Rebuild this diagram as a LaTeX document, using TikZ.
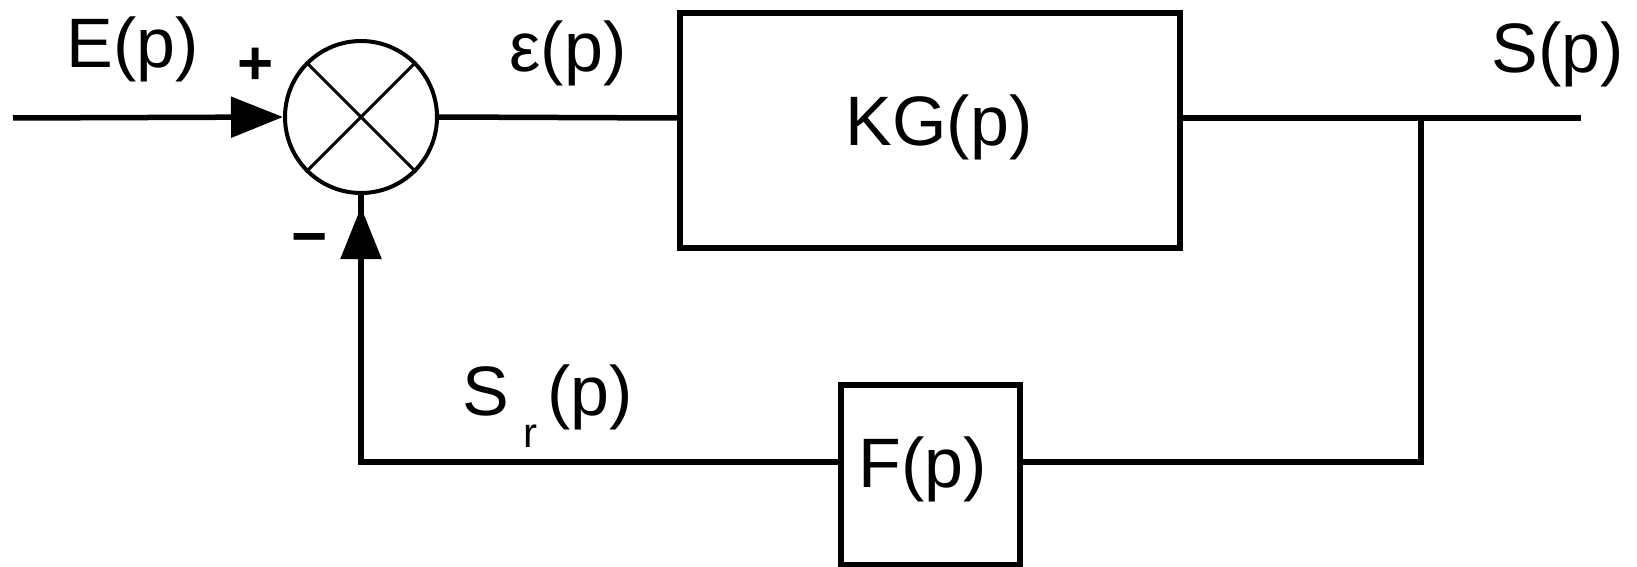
\documentclass[tikz,border=0pt]{standalone}
\usepackage{fontspec}
\setmainfont{Liberation Sans}
\usetikzlibrary{arrows.meta,calc}
\begin{document}
\begin{tikzpicture}[x=1pt,y=-1pt,
  wire/.style={line width=5.5pt},
  arr/.style={line width=5.5pt,-{Triangle[length=52pt,width=40pt]}},
  blk/.style={draw,line width=5.5pt,inner sep=0pt},
  lbl/.style={font=\fontsize{70}{70}\selectfont,inner sep=0pt,anchor=base},
  sgn/.style={font=\bfseries\fontsize{62}{62}\selectfont,inner sep=0pt},
  sumstyle/.style={draw,circle,line width=4pt,minimum size=152pt,inner sep=0pt}]
\useasboundingbox (0,0) rectangle (1637,567);
% blocks
\node[sumstyle] (sum) at (361,117) {};
\draw[line width=3pt] (sum.north west) -- (sum.south east);
\draw[line width=3pt] (sum.north east) -- (sum.south west);
\node[blk,minimum width=500pt,minimum height=235pt] (KG) at (930,130.5) {};
\node[blk,minimum width=179pt,minimum height=180pt] (F) at (930.5,475) {};
% coordinates
\coordinate (in) at (13,118);
\coordinate (out) at (1581,118);
\coordinate (br) at (1421,118);
\coordinate (fbr) at (1421,462);
\coordinate (fbl) at (361,462);
% connectors
\draw[arr] (in) -- (sum.west);
\draw[wire] (sum.east) -- (KG.west |- in);
\draw[wire] (KG.east |- out) -- (out);
\draw[wire] (br) -- (fbr) -- (F.east |- fbr);
\draw[wire] (F.west |- fbl) -- (fbl) -- (sum.south);
\draw[arr,shorten >=12pt] (fbl) -- (sum.south);
% labels
\node[lbl] (KGt) at (939,145) {KG(p)};
\node[lbl] (Ft) at (923,487) {F(p)};
\node[lbl] (Ein) at (133,68) {E(p)};
\node[lbl] (eps) at (568,72) {ε(p)};
\node[lbl] (Sout) at (1558,73) {S(p)};
\node[lbl] (Sr) at (548,415) {S\hspace{14pt}\raisebox{-32pt}{\fontsize{42}{42}\selectfont r}\hspace{10pt}(p)};
\node[sgn] (plus) at (256,66) {+};
\node[sgn] (minus) at (310,245) {−};
\end{tikzpicture}
\end{document}
